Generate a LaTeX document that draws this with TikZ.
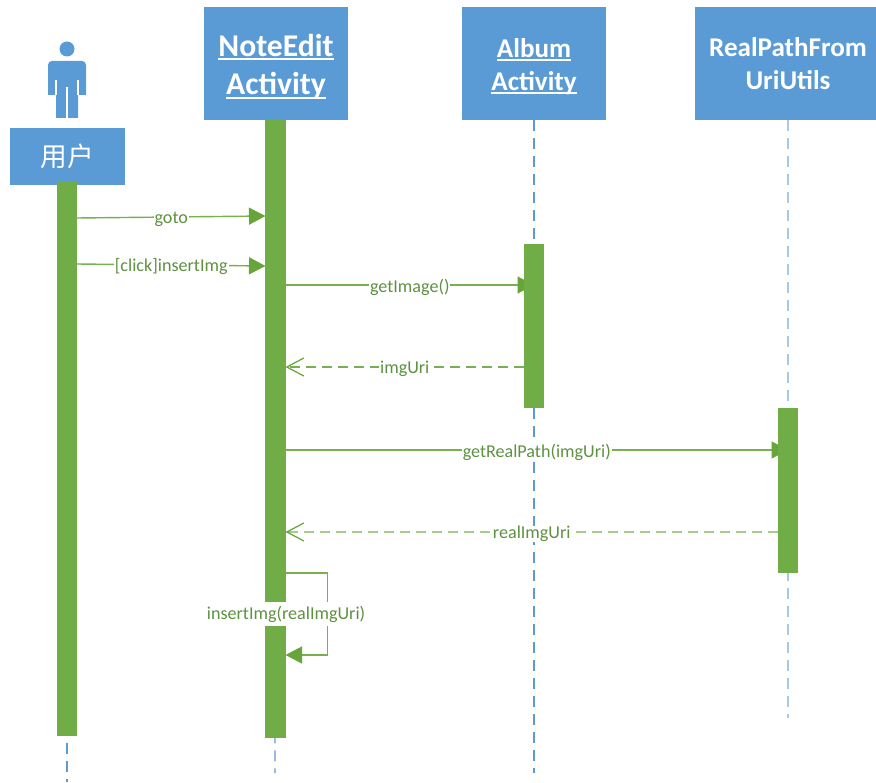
\documentclass[tikz,border=0pt]{standalone}
\usepackage{fontspec}
\setmainfont{Carlito}
\newfontfamily\cjkfont{Noto Sans CJK SC}
\usetikzlibrary{arrows.meta,backgrounds}
\definecolor{boxblue}{HTML}{5B9BD5}
\definecolor{palelife}{HTML}{A9C8E6}
\definecolor{bargreen}{HTML}{70AD47}
\definecolor{msggreen}{HTML}{78B050}
\definecolor{tipgreen}{HTML}{67A53A}
\definecolor{palereply}{HTML}{A7CC8D}
\definecolor{textgreen}{HTML}{5E9140}
\newcommand{\ulword}[1]{\leavevmode\setbox0\hbox{#1}\rlap{\rule[-.12em]{\wd0}{.055em}}\box0}
\newcommand{\topgap}{\rule{0pt}{.92em}}
\tikzset{
	headbox/.style={
			fill=boxblue, text=white, font=\fontsize{7.7}{9.4}\selectfont\bfseries,
			align=center, inner sep=0, outer sep=0, minimum height=1.13cm
		},
	lifebar/.style={fill=bargreen, minimum width=.2cm, inner sep=0, outer sep=0},
	lifeline/.style={boxblue, line width=.35pt, dash pattern=on .11cm off .07cm},
	msg/.style={msggreen, line width=.4pt, -{Triangle[length=.165cm,width=.17cm,color=tipgreen]}},
	reply/.style={msggreen, line width=.4pt, dash pattern=on .1cm off .06cm,
			-{Straight Barb[length=.17cm,width=.18cm,line width=.35pt,color=tipgreen]}},
	msglabel/.style={text=textgreen, fill=white, font=\fontsize{5.15}{6}\selectfont,
			inner xsep=.01cm, inner ysep=0},
	pathlabel/.style={msglabel, yshift=-.02cm}
}
\begin{document}
\begin{tikzpicture}[x=.01cm,y=-.01cm]
\useasboundingbox (0,0) rectangle (876,782);
% Person icon
\fill[boxblue] (67,49) circle (7.5);
\fill[boxblue] (48,95) -- (48,65) .. controls (48,62.5) and (50,61) .. (52,61) -- (82,61)
	.. controls (84,61) and (86,62.5) .. (86,65) -- (86,95)
	-- (78,95) -- (78,118) -- (56,118) -- (56,95) -- cycle;
\draw[white, line width=.3pt] (67,87) -- (67,118);
\draw[white, line width=.3pt] (56,80) -- (56,95);
\draw[white, line width=.3pt] (78,80) -- (78,95);
% Head boxes
\node[headbox, minimum width=1.15cm, minimum height=.57cm, font=\fontsize{7.6}{9}\selectfont\cjkfont] (user) at (67.5,156.5) {用户};
\node[headbox, minimum width=1.44cm, font=\fontsize{9}{10.9}\selectfont\bfseries] (note) at (276,63.5) {\topgap\ulword{NoteEdit}\\\ulword{Activity}};
\node[headbox, minimum width=1.44cm] (album) at (534,63.5) {\topgap\ulword{Album}\\\ulword{Activity}};
\node[headbox, minimum width=1.81cm] (real) at (785.5,63.5) {\hspace*{.05cm}RealPathFrom\\\hspace*{.05cm}UriUtils};
% Activation bars
\node[lifebar, minimum height=5.55cm] (userbar) at (67,458.5) {};
\node[lifebar, minimum height=6.18cm] (notebar) at (275.5,429) {};
\node[lifebar, minimum height=1.64cm] (albumbar) at (534,326) {};
\node[lifebar, minimum height=1.65cm] (realbar) at (788,490.5) {};
% Message levels
\foreach \name/\y in {gotoa/218, gotob/216, clicka/264, clickb/266, getimg/285, imguri/367, getpath/450, realuri/532, selfa/573, selfb/655} {
\coordinate (\name) at (0,\y);
}
% Free ends of the lifelines
\coordinate (userend) at (67,782);
\coordinate (noteend) at (275,773);
\coordinate (albumend) at (534,773);
\coordinate (realend) at (788,718);
\begin{scope}[on background layer]
% Lifelines
\draw[lifeline] (user.south -| userbar) -- (userend);
\draw[lifeline] (note.south -| notebar) -- (noteend);
\draw[lifeline] (album.south) -- (albumend);
\draw[lifeline, palelife] (real.south -| realbar) -- (realend);
% Messages
\draw[msg] (userbar.east |- gotoa) -- node[pathlabel] (gotolabel) {goto} (notebar.west |- gotob);
\draw[msg] (userbar.east |- clicka) -- node[pathlabel] (clicklabel) {[click]insertImg} (notebar.west |- clickb);
\draw[msg] (notebar.east |- getimg) -- node[pathlabel] (getimglabel) {getImage()} (albumbar.center |- getimg);
\draw[reply] (albumbar.west |- imguri) -- node[pathlabel] (imgurilabel) {imgUri} (notebar.east |- imguri);
\draw[msg] (notebar.east |- getpath) -- node[pathlabel] (getpathlabel) {getRealPath(imgUri)} (realbar.center |- getpath);
\draw[reply, palereply] (realbar.west |- realuri) -- node[pathlabel] (realurilabel) {realImgUri} (notebar.east |- realuri);
\draw[msg] (notebar.east |- selfa) -- ++(42,0) |- (notebar.east |- selfb);
\end{scope}
% Label across the bar
\node[msglabel, minimum height=.24cm] (selflabel) at (286,614) {\raisebox{-.03cm}{insertImg(realImgUri)}};
\end{tikzpicture}
\end{document}
